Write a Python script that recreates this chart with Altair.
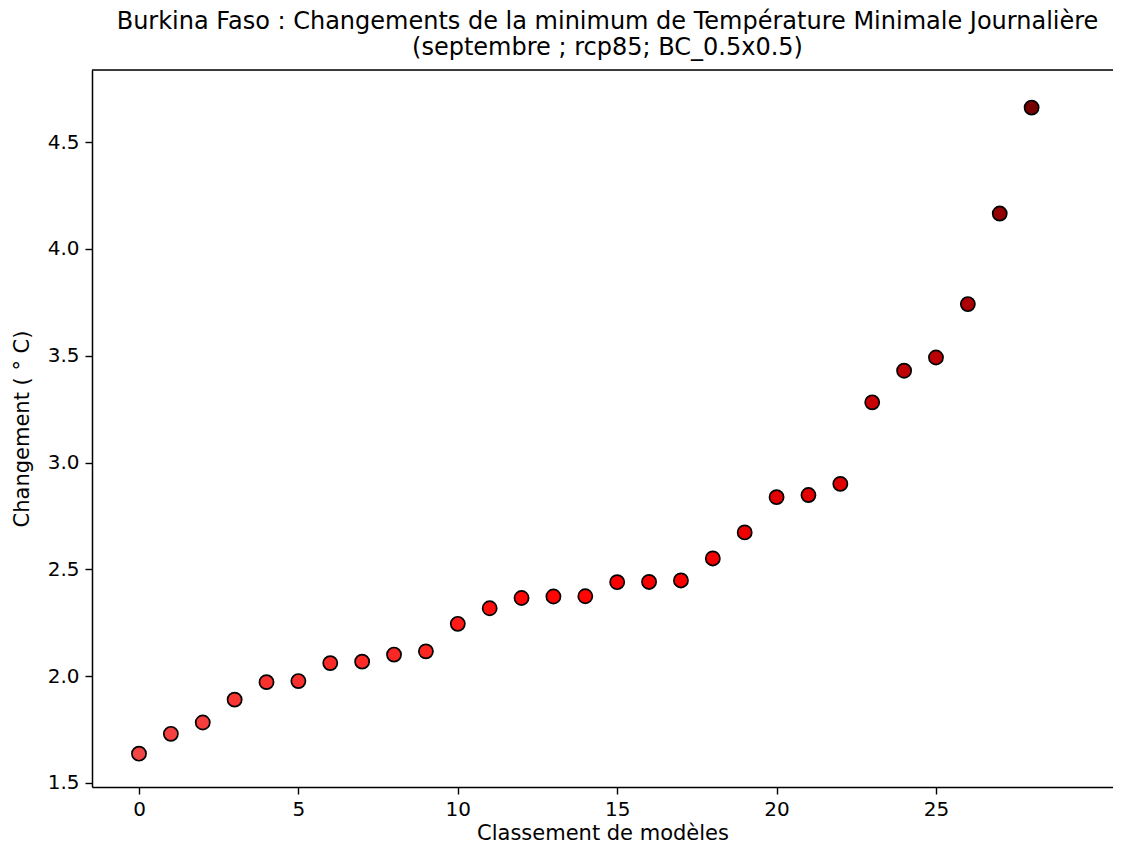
import altair as alt
import pandas as pd

rank = list(range(29))
change = [1.637, 1.730, 1.783, 1.890, 1.972, 1.977, 2.061, 2.068, 2.101, 2.116,
          2.245, 2.318, 2.366, 2.373, 2.374, 2.440, 2.441, 2.448, 2.551, 2.673,
          2.838, 2.848, 2.900, 3.282, 3.430, 3.492, 3.742, 4.166, 4.662]

df = pd.DataFrame({"rank": rank, "change": change})

W = 1021
H = 717

axis_style = dict(grid=False, tickSize=7,
                  domainColor="black", tickColor="black", labelColor="black",
                  titleColor="black", labelFontSize=20, titleFontSize=21,
                  titleFontWeight="normal", labelFont="DejaVu Sans",
                  titleFont="DejaVu Sans", domainWidth=1.5, tickWidth=1.4)

points = alt.Chart(df).mark_circle(
    size=200, opacity=1, stroke="black", strokeWidth=1.7
).encode(
    x=alt.X("rank:Q", scale=alt.Scale(domain=[-1.474, 30.553], nice=False, zero=False),
            axis=alt.Axis(title="Classement de modèles", values=[0, 5, 10, 15, 20, 25],
                          labelPadding=5, titlePadding=3, **axis_style)),
    y=alt.Y("change:Q", scale=alt.Scale(domain=[1.481, 4.838], nice=False, zero=False),
            axis=alt.Axis(title="Changement ( ° C)", values=[1.5, 2.0, 2.5, 3.0, 3.5, 4.0, 4.5],
                          format=".1f", labelPadding=6, titlePadding=15, **axis_style)),
    color=alt.Color("change:Q", scale=alt.Scale(domain=[1.637, 2.40, 4.662],
                                                range=["#f24646", "#ff0000", "#760000"]),
                    legend=None),
)

top = alt.Chart(pd.DataFrame({"a": [0]})).mark_rule(color="black", strokeWidth=1.5).encode(
    x=alt.value(0), x2=alt.value(W), y=alt.value(0)
)

chart = alt.layer(points, top).properties(
    width=W, height=H,
    autosize=alt.AutoSizeParams(type="none"),
    padding={"left": 84, "top": 62, "right": 0, "bottom": 59},
    title=alt.TitleParams(
        text=["Burkina Faso : Changements de la minimum de Température Minimale Journalière",
              "(septembre ; rcp85; BC_0.5x0.5)"],
        font="DejaVu Sans", fontSize=24, fontWeight="normal", color="black",
        anchor="middle", offset=9, lineHeight=26, dx=5),
).configure_view(stroke=None).configure(background="white")

chart.save("out.html", embed_options={"renderer": "svg", "actions": False})
